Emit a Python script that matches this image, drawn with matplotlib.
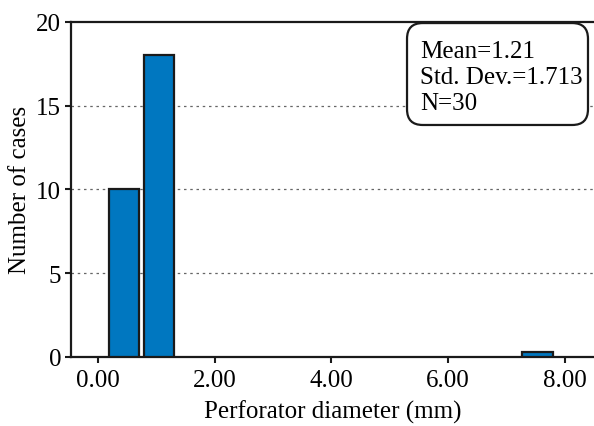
import matplotlib
matplotlib.use("Agg")
import matplotlib.pyplot as plt
from matplotlib.patches import FancyBboxPatch

# histogram bars
bin_centers = [0.445, 1.045, 7.53]
bin_counts = [10, 18, 0.3]
bar_width = 0.52

xticks = [0, 2, 4, 6, 8]
xtick_labels = ["0.00", "2.00", "4.00", "6.00", "8.00"]
yticks = [0, 5, 10, 15, 20]
stats_lines = ["Mean=1.21", "Std. Dev.=1.713", "N=30"]

plt.rcParams['font.family'] = ['Liberation Serif', 'DejaVu Serif']
fontsize = 18

fig = plt.figure(figsize=(5.94, 4.27), dpi=100)
ax = fig.add_axes([0.1195, 0.1616, 0.8805, 0.7852])

for y in yticks[1:-1]:
    ax.axhline(y, color='#666666', linestyle=(0, (2, 3)), linewidth=0.9, zorder=1)

ax.bar(bin_centers, bin_counts, width=bar_width, color='#0077c0',
       edgecolor='#1a1a1a', linewidth=1.6, zorder=3)

ax.set_xlim(-0.46, 8.5)
ax.set_ylim(0, 20)
ax.set_xticks(xticks)
ax.set_xticklabels(xtick_labels, fontsize=fontsize)
ax.set_yticks(yticks)
ax.set_yticklabels([str(v) for v in yticks], fontsize=fontsize)
ax.tick_params(axis='both', direction='out', length=4, width=1.5, color='#1a1a1a')
ax.tick_params(axis='x', pad=5)
ax.tick_params(axis='y', pad=3)

for side in ['left', 'bottom', 'top']:
    ax.spines[side].set_linewidth(1.6)
    ax.spines[side].set_color('#1a1a1a')
ax.spines['right'].set_visible(False)

ax.set_xlabel('Perforator diameter (mm)', fontsize=fontsize, labelpad=6)
ax.set_ylabel('Number of cases', fontsize=fontsize, labelpad=4)

# stats box
box = FancyBboxPatch((0.6425, 0.692), 0.346, 0.304, transform=ax.transAxes,
                     boxstyle='round,pad=0,rounding_size=0.03', mutation_aspect=1.56,
                     facecolor='white', edgecolor='#1a1a1a', linewidth=1.6,
                     clip_on=False, zorder=5)
ax.add_patch(box)
for line, yb in zip(stats_lines, [0.8947, 0.8172, 0.7396]):
    ax.text(0.6673, yb, line, transform=ax.transAxes, fontsize=fontsize,
            ha='left', va='baseline', zorder=6)

fig.savefig('out.png', dpi=100)
